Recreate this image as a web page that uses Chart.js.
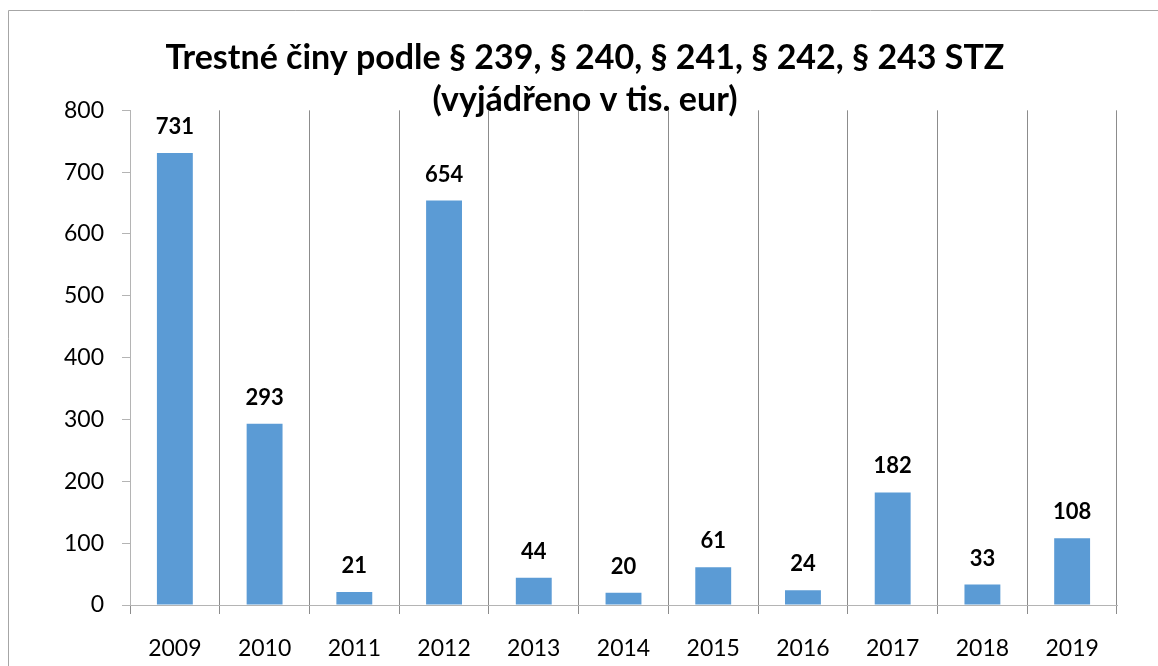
<!DOCTYPE html>
<html>
<head>
<meta charset="utf-8">
<script src="https://cdn.jsdelivr.net/npm/chart.js@4.4.1/dist/chart.umd.min.js"></script>
<style>
  html, body { margin: 0; padding: 0; background: #fff; }
  #obal { width: 1158px; height: 666px; }
</style>
</head>
<body>
<div id="obal"><canvas id="myChart" width="1158" height="666"></canvas></div>
<script>
// data z grafu
const roky = ["2009", "2010", "2011", "2012", "2013", "2014", "2015", "2016", "2017", "2018", "2019"];
const hodnoty = [731, 293, 21, 654, 44, 20, 61, 24, 182, 33, 108];
const osaMin = 0;
const osaMax = 800;
const osaKrok = 100;
const nadpis = ["Trestné činy podle § 239, § 240, § 241, § 242, § 243 STZ", "(vyjádřeno v tis. eur)"];

const pismo = "Lato, 'Open Sans', sans-serif";

//ramecek a bile pozadi
const ramecek = {
  id: "ramecek",
  beforeDraw(chart) {
    const ctx = chart.ctx;
    ctx.save();
    ctx.fillStyle = "#fff";
    ctx.fillRect(0, 0, chart.width, chart.height);
    ctx.strokeStyle = "#a6a6a6";
    ctx.lineWidth = 1;
    ctx.beginPath();
    ctx.moveTo(8.5, chart.height);
    ctx.lineTo(8.5, 10.5);
    ctx.lineTo(chart.width, 10.5);
    ctx.stroke();
    ctx.restore();
  }
};

//popisky hodnot nad sloupci
const popisky = {
  id: "popisky",
  afterDatasetsDraw(chart) {
    const ctx = chart.ctx;
    const meta = chart.getDatasetMeta(0);
    ctx.save();
    ctx.font = "bold 22px " + pismo;
    ctx.fillStyle = "#000";
    ctx.textAlign = "center";
    ctx.textBaseline = "alphabetic";
    meta.data.forEach((bar, i) => {
      ctx.fillText(String(hodnoty[i]), bar.x, bar.y - 19);
    });
    ctx.restore();
  }
};

let myChart = document.getElementById("myChart");
const config = {
  type: "bar",
  data: {
    labels: roky,
    datasets: [
      {
        data: hodnoty,
        backgroundColor: "#5b9bd5",
        borderWidth: 0,
        barPercentage: 0.4,
        categoryPercentage: 1.0,
      },
    ],
  },
  options: {
    responsive: false,
    animation: false,
    events: [],
    layout: { padding: { top: 10, left: 53, right: 41, bottom: 0 } },
    plugins: {
      legend: { display: false },
      tooltip: { enabled: false },
      title: {
        display: true,
        text: nadpis,
        color: "#000",
        font: { family: pismo, size: 34, weight: "bold", lineHeight: 1.24 },
        padding: { top: 27, bottom: -11 },
      },
    },
    scales: {
      x: {
        afterFit(scale) { scale.height = 61; },
        grid: { offset: true, color: "#8c8c8c", tickLength: 9, lineWidth: 1 },
        border: { color: "#b4b4b4" },
        ticks: { color: "#000", font: { family: pismo, size: 23 }, padding: 21, maxRotation: 0 },
      },
      y: {
        min: osaMin,
        max: osaMax,
        afterFit(scale) { scale.width = 77; },
        grid: { drawOnChartArea: false, color: "#b4b4b4", tickLength: 8 },
        border: { color: "#b4b4b4" },
        ticks: { stepSize: osaKrok, color: "#000", font: { family: pismo, size: 23 }, padding: 18 },
      },
    },
  },
  plugins: [ramecek, popisky],
};
let chart = new Chart(myChart, config);
</script>
</body>
</html>
